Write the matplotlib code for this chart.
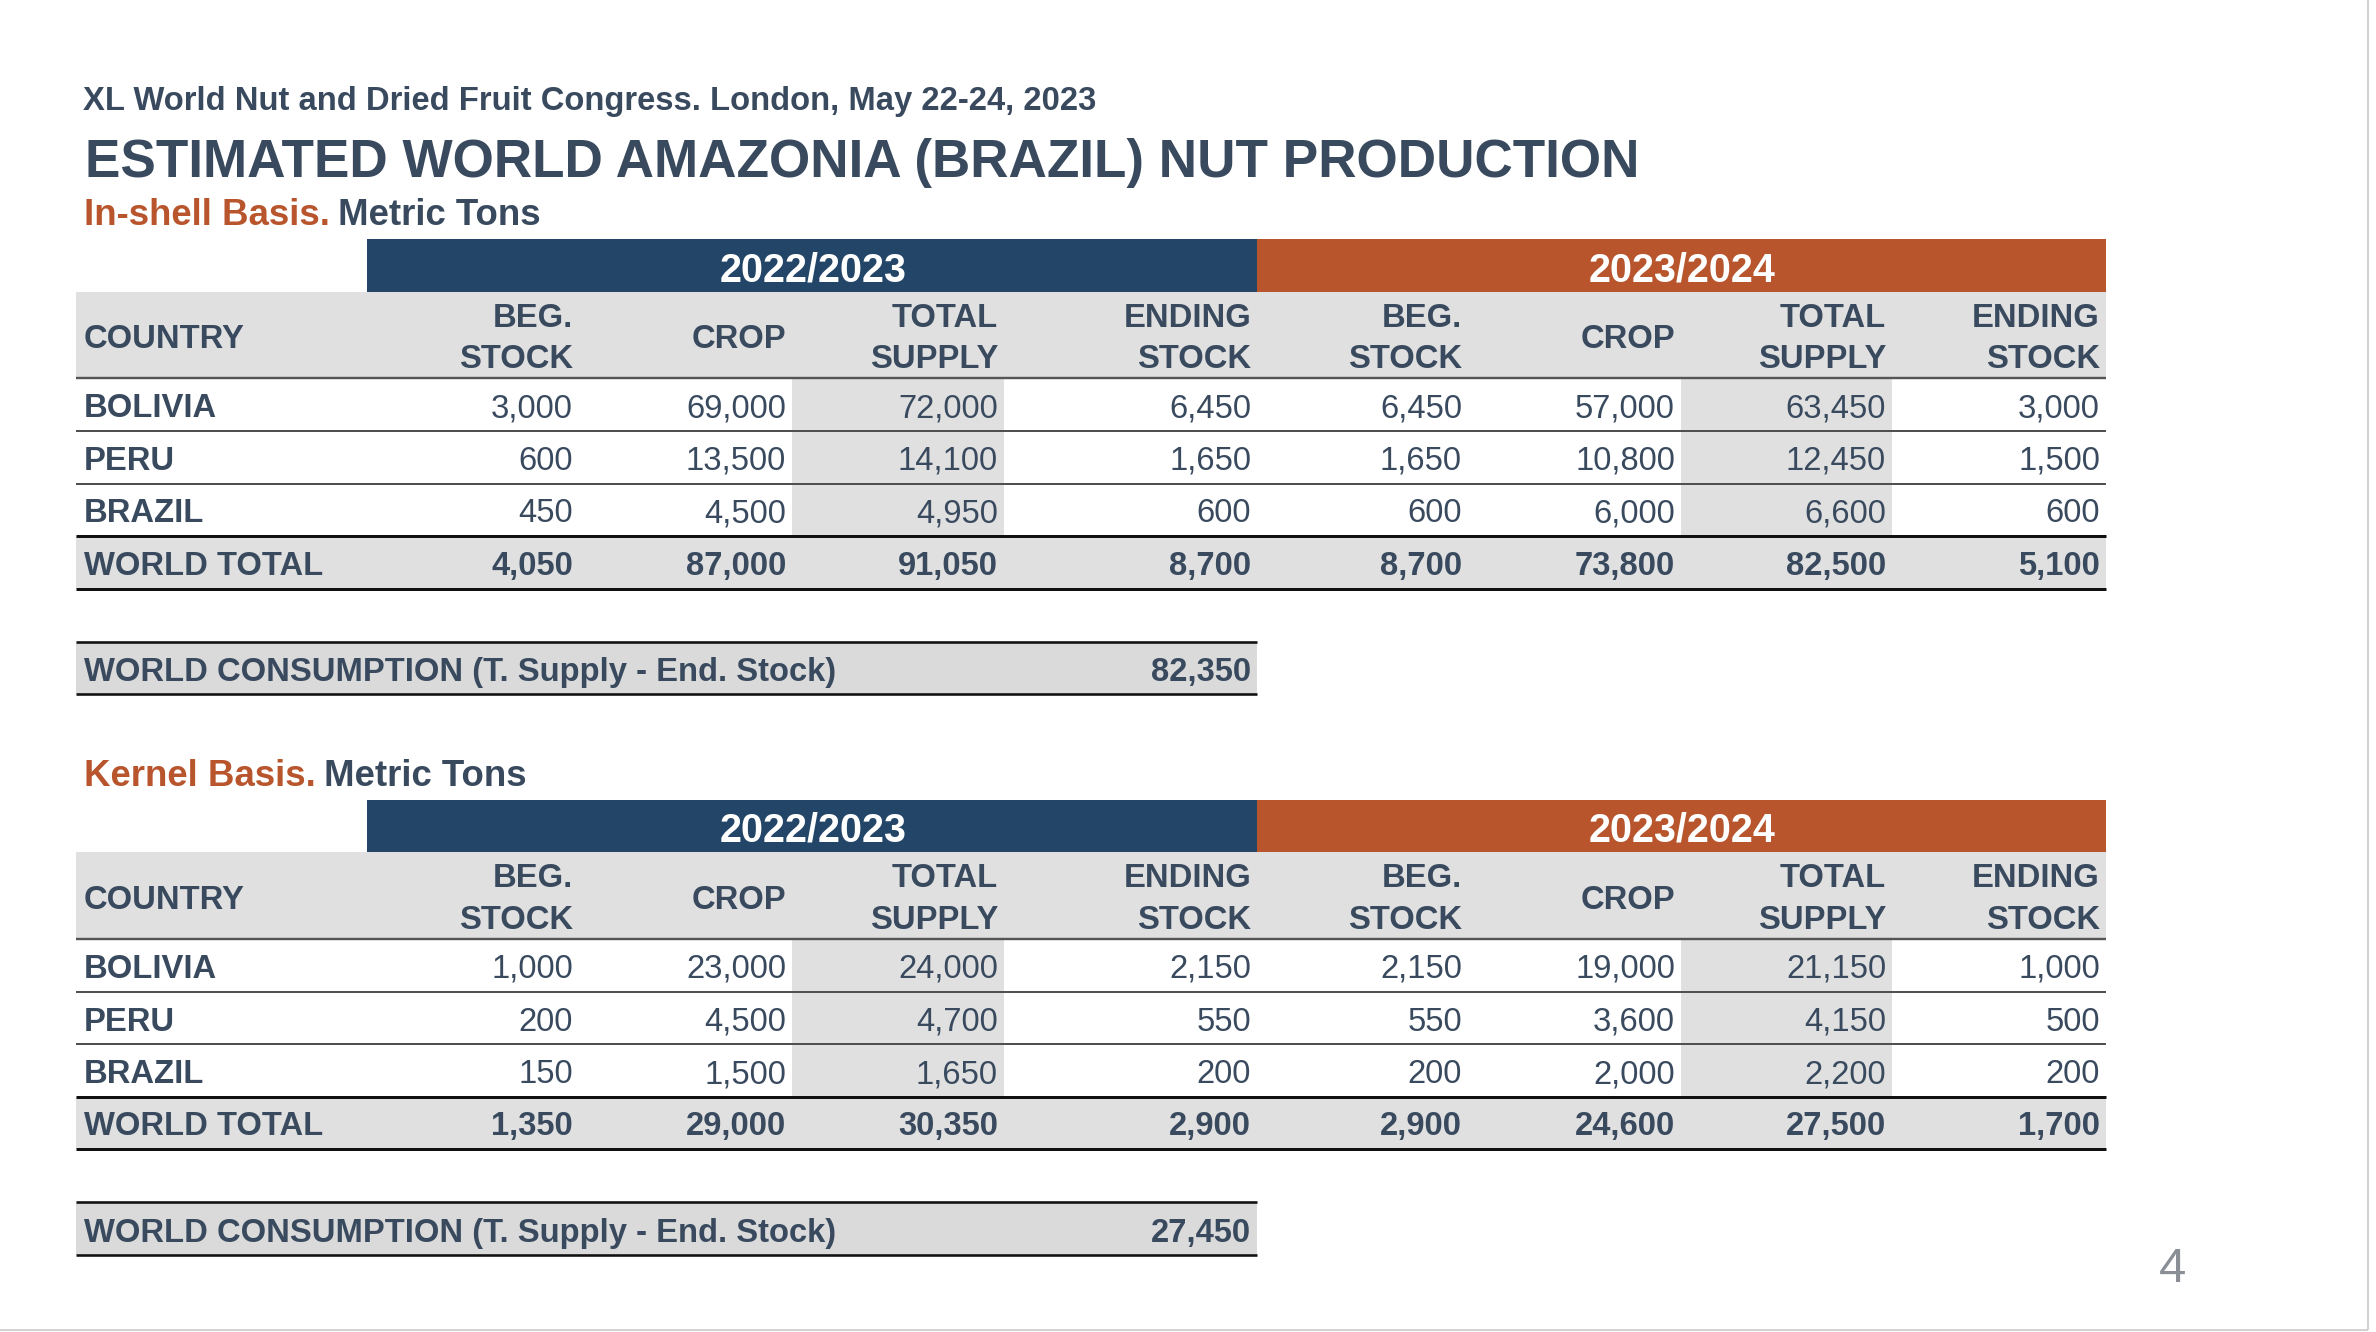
import matplotlib
matplotlib.use("Agg")
import matplotlib.pyplot as plt
from matplotlib.patches import Rectangle

# ---- data ----
years = ["2022/2023", "2023/2024"]
col_top = ["BEG.", "", "TOTAL", "ENDING"]
col_bottom = ["STOCK", "CROP", "SUPPLY", "STOCK"]
countries = ["BOLIVIA", "PERU", "BRAZIL"]

inshell_2223 = [[3000, 69000, 72000, 6450],
                [600, 13500, 14100, 1650],
                [450, 4500, 4950, 600]]
inshell_2324 = [[6450, 57000, 63450, 3000],
                [1650, 10800, 12450, 1500],
                [600, 6000, 6600, 600]]
inshell_total_2223 = [4050, 87000, 91050, 8700]
inshell_total_2324 = [8700, 73800, 82500, 5100]
inshell_consumption = 82350

kernel_2223 = [[1000, 23000, 24000, 2150],
               [200, 4500, 4700, 550],
               [150, 1500, 1650, 200]]
kernel_2324 = [[2150, 19000, 21150, 1000],
               [550, 3600, 4150, 500],
               [200, 2000, 2200, 200]]
kernel_total_2223 = [1350, 29000, 30350, 2900]
kernel_total_2324 = [2900, 24600, 27500, 1700]
kernel_consumption = 27450

# ---- style ----
DARK = "#394a5f"
NAVY = "#224568"
ORANGE = "#b8552d"
GRAY = "#e0e0e0"
GRAY2 = "#dadada"
FONT = "Liberation Sans"

W, H = 2376, 1332
PT = 0.72  # px -> pt at dpi 100
BODY = 32.8

# column boundaries (px)
bounds = [76, 367, 579, 792, 1004, 1257, 1468, 1681, 1892, 2106]
ROW_H = 52.6


def fmt(v):
    return f"{v:,}"


fig = plt.figure(figsize=(W / 100, H / 100), dpi=100)
ax = fig.add_axes([0, 0, 1, 1])
ax.set_xlim(0, W)
ax.set_ylim(H, 0)
ax.axis("off")


def txt(x, y, s, size, color=DARK, weight="bold", ha="left", family=FONT):
    return ax.text(x, y, s, fontsize=size * PT, color=color, fontweight=weight,
                   ha=ha, va="baseline", family=family)


def draw_table(top, label, rows_a, rows_b, tot_a, tot_b, consumption):
    # basis label
    t = txt(84, top - 14, label + " ", 36.6, color=ORANGE)
    fig.canvas.draw()
    bb = t.get_window_extent().transformed(ax.transData.inverted())
    txt(bb.x1 - 2, top - 14, "Metric Tons", 36.6)

    # year bands
    band_h = 52.4
    ax.add_patch(Rectangle((bounds[1], top), bounds[5] - bounds[1], band_h, color=NAVY, lw=0))
    ax.add_patch(Rectangle((bounds[5], top), bounds[9] - bounds[5], band_h, color=ORANGE, lw=0))
    for i, yr in enumerate(years):
        cx = (bounds[1 + 4 * i] + bounds[5 + 4 * i]) / 2
        txt(cx + 1, top + 42, yr, 39.5, color="white", ha="center")

    # column header row
    h_top = top + band_h
    h_bot = h_top + 86.6
    ax.add_patch(Rectangle((bounds[0], h_top), bounds[9] - bounds[0], h_bot - h_top, color=GRAY, lw=0))
    txt(84, h_top + 56.5, "COUNTRY", BODY)
    for j in range(8):
        xr = bounds[2 + j] - 6
        k = j % 4
        if col_top[k]:
            txt(xr, h_top + 35, col_top[k], BODY, ha="right")
            txt(xr, h_top + 76.5, col_bottom[k], BODY, ha="right")
        else:
            txt(xr, h_top + 56.5, col_bottom[k], BODY, ha="right")

    # shaded total supply columns
    data_top = h_bot
    data_bot = data_top + ROW_H * len(countries)
    for c in (3, 7):
        ax.add_patch(Rectangle((bounds[c], data_top), bounds[c + 1] - bounds[c],
                               data_bot - data_top, color=GRAY, lw=0))

    # data rows
    for r, name in enumerate(countries):
        y0 = data_top + ROW_H * r
        txt(84, y0 + 39, name, BODY)
        vals = rows_a[r] + rows_b[r]
        for j, v in enumerate(vals):
            txt(bounds[2 + j] - 6, y0 + 39, fmt(v), BODY, weight="normal", ha="right")
        if r < len(countries) - 1:
            ax.hlines(y0 + ROW_H, bounds[0], bounds[9], color="#505050", lw=2 * PT)

    # world total row
    ax.add_patch(Rectangle((bounds[0], data_bot), bounds[9] - bounds[0], ROW_H, color=GRAY, lw=0))
    txt(84, data_bot + 38.5, "WORLD TOTAL", BODY)
    for j, v in enumerate(tot_a + tot_b):
        txt(bounds[2 + j] - 6, data_bot + 38.5, fmt(v), BODY, ha="right")

    ax.hlines(h_bot, bounds[0], bounds[9], color="#555555", lw=2.4 * PT)
    ax.hlines(data_bot, bounds[0], bounds[9], color="#111111", lw=3 * PT)
    ax.hlines(data_bot + ROW_H, bounds[0], bounds[9], color="#111111", lw=3 * PT)

    # consumption row
    c_top = data_bot + ROW_H + 53
    ax.add_patch(Rectangle((bounds[0], c_top), bounds[5] - bounds[0], ROW_H, color=GRAY2, lw=0))
    txt(84, c_top + 39.4, "WORLD CONSUMPTION (T. Supply - End. Stock)", BODY)
    txt(bounds[5] - 6, c_top + 39.4, fmt(consumption), BODY, ha="right")
    ax.hlines(c_top, bounds[0], bounds[5], color="#111111", lw=2.6 * PT)
    ax.hlines(c_top + ROW_H, bounds[0], bounds[5], color="#111111", lw=2.6 * PT)


# headings (the original subtitle is set in a narrow face; sized to match its width)
txt(83, 110, "XL World Nut and Dried Fruit Congress. London, May 22-24, 2023", 32.8)
txt(85, 176.7, "ESTIMATED WORLD AMAZONIA (BRAZIL) NUT PRODUCTION", 53.1)

draw_table(239.3, "In-shell Basis.", inshell_2223, inshell_2324,
           inshell_total_2223, inshell_total_2324, inshell_consumption)
draw_table(800.0, "Kernel Basis.", kernel_2223, kernel_2324,
           kernel_total_2223, kernel_total_2324, kernel_consumption)

# page number and slide frame
txt(2172, 1282, "4", 49, color="#8a8f96", weight="normal", ha="center")
ax.vlines(2368, 0, 1330, color="#c4c4c4", lw=1.5 * PT)
ax.hlines(1330, 0, 2368, color="#c4c4c4", lw=1.5 * PT)

fig.savefig("out.png", dpi=100)
